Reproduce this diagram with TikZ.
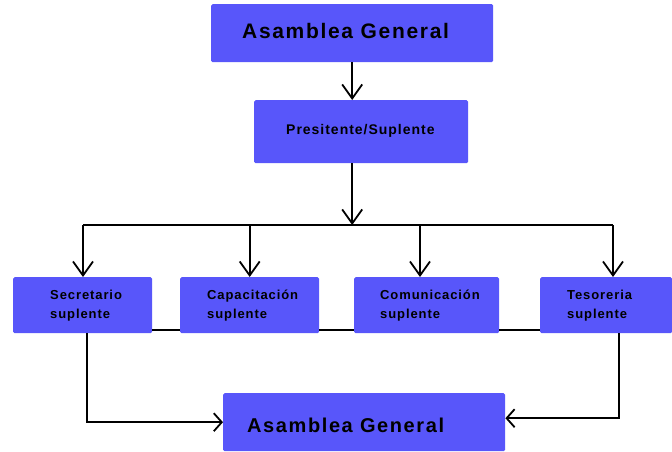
\documentclass[tikz,border=0pt]{standalone}
\usepackage{fontspec}
\setmainfont{Liberation Sans}
\newfontfamily\spacedfont[LetterSpace=8]{Liberation Sans}
\newfontfamily\smallspaced[LetterSpace=7]{Liberation Sans}
\usetikzlibrary{arrows.meta}
\definecolor{boxblue}{RGB}{88,86,250}
\tikzset{
  box/.style={fill=boxblue, draw=none, rounded corners=1.5pt, inner sep=0pt, anchor=north west},
  conn/.style={draw=black, line width=1.8pt},
  arr/.style={conn, -{Straight Barb[length=14pt,width=20pt,line width=1.8pt]}},
  sidearr/.style={conn, -{Straight Barb[length=8pt,width=18pt,line width=1.8pt]}},
  titletext/.style={inner sep=0pt, anchor=base west, font=\spacedfont\bfseries\fontsize{21}{25}\selectfont},
  midtext/.style={inner sep=0pt, anchor=base west, font=\smallspaced\bfseries\fontsize{14}{17}\selectfont},
  subtext/.style={inner sep=0pt, anchor=north west, align=left, font=\smallspaced\bfseries\fontsize{13}{19}\selectfont},
}
\begin{document}
\begin{tikzpicture}[x=1pt,y=-1pt]
\useasboundingbox (0,0) rectangle (672,451);
% boxes
\node[box, minimum width=282pt, minimum height=58pt] (top) at (211,4) {};
\node[box, minimum width=214pt, minimum height=63pt] (pres) at (254,100) {};
\node[box, minimum width=139pt, minimum height=56pt] (sec) at (13,277) {};
\node[box, minimum width=139pt, minimum height=56pt] (cap) at (180,277) {};
\node[box, minimum width=145pt, minimum height=56pt] (com) at (354,277) {};
\node[box, minimum width=132pt, minimum height=56pt] (tes) at (540,277) {};
\node[box, minimum width=282pt, minimum height=58pt] (bot) at (223,393) {};
% texts
\node[titletext] (topT) at (242,38) {Asamblea General};
\node[midtext] (presT) at (286,134) {Presitente/Suplente};
\node[subtext] (secT) at (50,289.5) {Secretario\\suplente};
\node[subtext] (capT) at (207,289.5) {Capacitación\\suplente};
\node[subtext] (comT) at (380,289.5) {Comunicación\\suplente};
\node[subtext] (tesT) at (567,289.5) {Tesoreria\\suplente};
\node[titletext, font=\spacedfont\bfseries\fontsize{20}{24}\selectfont] (botT) at (247,432) {Asamblea General};
% connectors
\coordinate (busL) at (83,225);
\coordinate (busR) at (613,225);
\coordinate (dropC) at (420,225);
\coordinate (lineY) at (0,330);
\draw[arr] (top.south) -- (top.south |- pres.north);
\draw[arr] (top.south |- pres.south) -- (top.south |- busL);
\draw[conn] (busL) -- (busR);
\draw[arr] (busL) -- (busL |- sec.north);
\draw[arr] (cap.north |- busL) -- (cap.north);
\draw[arr] (dropC) -- (dropC |- com.north);
\draw[arr] (busR) -- (busR |- tes.north);
\draw[conn] (sec.east |- lineY) -- (cap.west |- lineY);
\draw[conn] (cap.east |- lineY) -- (com.west |- lineY);
\draw[conn] (com.east |- lineY) -- (tes.west |- lineY);
\draw[sidearr] ([xshift=4pt]sec.south) |- (bot.west);
\draw[sidearr] ([xshift=13pt]tes.south) |- ([yshift=4pt]bot.east);
\end{tikzpicture}
\end{document}
